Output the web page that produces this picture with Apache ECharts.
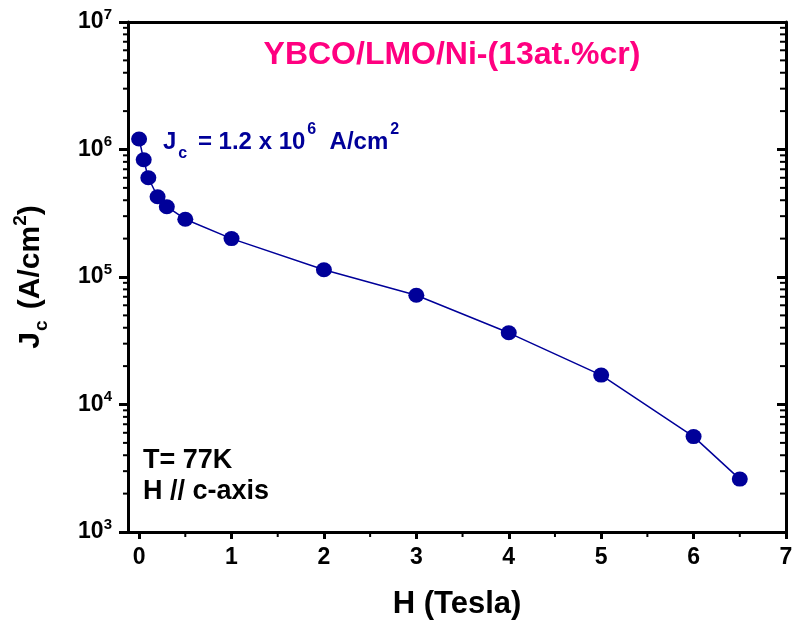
<!DOCTYPE html>
<html>
<head>
<meta charset="utf-8">
<script src="https://cdn.jsdelivr.net/npm/echarts@6/dist/echarts.min.js"></script>
<style>
html,body{margin:0;padding:0;background:#fff;}
#chart{width:792px;height:621px;}
</style>
</head>
<body>
<div id="chart"></div>
<script>
// ---- data ----
const fieldH = [0, 0.05, 0.1, 0.2, 0.3, 0.5, 1, 2, 3, 4, 5, 6, 6.5];
const jcValues = [1.21e6, 8.3e5, 6.0e5, 4.26e5, 3.56e5, 2.84e5, 2.0e5, 1.14e5, 7.2e4, 3.65e4, 1.7e4, 5.6e3, 2.6e3];
const xTickValues = [0, 1, 2, 3, 4, 5, 6, 7];
const xMinorTickValues = [0.5, 1.5, 2.5, 3.5, 4.5, 5.5, 6.5];
const yMinorTickValues = [
  2e3, 3e3, 4e3, 5e3, 6e3, 7e3, 8e3, 9e3,
  2e4, 3e4, 4e4, 5e4, 6e4, 7e4, 8e4, 9e4,
  2e5, 3e5, 4e5, 5e5, 6e5, 7e5, 8e5, 9e5,
  2e6, 3e6, 4e6, 5e6, 6e6, 7e6, 8e6, 9e6
];
const titleText = 'YBCO/LMO/Ni-(13at.%cr)';
const conditionLines = ['T= 77K', 'H // c-axis'];

const FONT = 'Liberation Sans, Arial, sans-serif';
const X_MIN = -0.12, X_MAX = 7, Y_MIN = 1e3, Y_MAX = 1e7;
const NAVY = '#000099';

const chart = echarts.init(document.getElementById('chart'), null, {renderer: 'canvas'});

const minorY = function (params, api) {
  const cs = params.coordSys;
  const y = api.coord([0, api.value(1)])[1];
  return {
    type: 'group',
    children: [
      {type: 'line', shape: {x1: cs.x - 5, y1: y, x2: cs.x, y2: y}, style: {stroke: '#000', lineWidth: 2}},
      {type: 'line', shape: {x1: cs.x + cs.width - 6, y1: y, x2: cs.x + cs.width, y2: y}, style: {stroke: '#000', lineWidth: 2}}
    ]
  };
};
const minorX = function (params, api) {
  const cs = params.coordSys;
  const x = api.coord([api.value(0), 1e4])[0];
  const yb = cs.y + cs.height;
  return {type: 'line', shape: {x1: x, y1: yb, x2: x, y2: yb + 5}, style: {stroke: '#000', lineWidth: 2}};
};

const option = {
  animation: false,
  backgroundColor: '#fff',
  grid: {left: 128, right: 6, top: 22, bottom: 89, containLabel: false, outerBoundsMode: 'none'},
  xAxis: [
    {
      type: 'value', min: X_MIN, max: X_MAX, position: 'bottom',
      axisLine: {show: true, onZero: false, lineStyle: {color: '#000', width: 3}},
      axisTick: {show: true, customValues: xTickValues, length: 7, lineStyle: {color: '#000', width: 3}},
      axisLabel: {customValues: xTickValues, margin: 14, color: '#000', fontFamily: FONT, fontWeight: 'bold', fontSize: 23},
      splitLine: {show: false},
      name: 'H (Tesla)', nameLocation: 'middle', nameGap: 57,
      nameTextStyle: {color: '#000', fontFamily: FONT, fontWeight: 'bold', fontSize: 31}
    },
    {
      type: 'value', min: X_MIN, max: X_MAX, position: 'top',
      axisLine: {show: true, onZero: false, lineStyle: {color: '#000', width: 3}},
      axisTick: {show: false}, axisLabel: {show: false}, splitLine: {show: false}
    }
  ],
  yAxis: [
    {
      type: 'log', logBase: 10, min: Y_MIN, max: Y_MAX, position: 'left',
      axisLine: {show: true, onZero: false, lineStyle: {color: '#000', width: 3}},
      axisTick: {show: true, length: 9, lineStyle: {color: '#000', width: 3}},
      axisLabel: {
        margin: 16, color: '#000',
        formatter: function (v) { return '{b|10}{s|' + Math.round(Math.log10(v)) + '}'; },
        rich: {
          b: {fontFamily: FONT, fontWeight: 'bold', fontSize: 23, lineHeight: 30, color: '#000'},
          s: {fontFamily: FONT, fontWeight: 'bold', fontSize: 15, lineHeight: 15, verticalAlign: 'top', color: '#000'}
        }
      },
      splitLine: {show: false}, minorTick: {show: false},
      name: '{j|J}{c|c}{j| (A/cm}{s|2}{j|)}', nameLocation: 'middle', nameGap: 77, nameRotate: 90,
      nameTextStyle: {
        rich: {
          j: {fontFamily: FONT, fontWeight: 'bold', fontSize: 30, lineHeight: 40, color: '#000'},
          c: {fontFamily: FONT, fontWeight: 'bold', fontSize: 19, lineHeight: 19, verticalAlign: 'bottom', padding: [0, 3, 0, 1], color: '#000'},
          s: {fontFamily: FONT, fontWeight: 'bold', fontSize: 19, lineHeight: 19, verticalAlign: 'top', color: '#000'}
        }
      }
    },
    {
      type: 'log', logBase: 10, min: Y_MIN, max: Y_MAX, position: 'right',
      axisLine: {show: true, onZero: false, lineStyle: {color: '#000', width: 3}},
      axisTick: {show: true, inside: true, length: 9, lineStyle: {color: '#000', width: 3}},
      axisLabel: {show: false}, splitLine: {show: false}
    }
  ],
  series: [
    {
      type: 'custom', xAxisIndex: 0, yAxisIndex: 0, clip: false, silent: true, z: 1,
      renderItem: minorY,
      data: yMinorTickValues.map(function (v) { return [0, v]; })
    },
    {
      type: 'custom', xAxisIndex: 0, yAxisIndex: 0, clip: false, silent: true, z: 1,
      renderItem: minorX,
      data: xMinorTickValues.map(function (v) { return [v, 1e4]; })
    },
    {
      type: 'line', xAxisIndex: 0, yAxisIndex: 0, z: 5,
      data: fieldH.map(function (h, i) { return [h, jcValues[i]]; }),
      symbol: 'circle', symbolSize: [16, 15],
      itemStyle: {color: NAVY},
      lineStyle: {color: NAVY, width: 1.5}
    }
  ],
  graphic: [
    {
      type: 'text', silent: true,
      style: {
        text: titleText, x: 452, y: 55, align: 'center', verticalAlign: 'middle',
        fill: '#FF0080', font: 'bold 32px ' + FONT
      }
    },
    {
      type: 'text', silent: true,
      style: {
        x: 163, y: 142, verticalAlign: 'middle', align: 'left',
        text: '{m|J}{c|c}{m| = 1.2 x 10}{s|6}{m|  A/cm}{s|2}',
        rich: {
          m: {fontFamily: FONT, fontWeight: 'bold', fontSize: 24, lineHeight: 40, fill: NAVY, color: NAVY},
          c: {fontFamily: FONT, fontWeight: 'bold', fontSize: 16, lineHeight: 16, verticalAlign: 'bottom', padding: [0, 4, 0, 2], fill: NAVY, color: NAVY},
          s: {fontFamily: FONT, fontWeight: 'bold', fontSize: 16, lineHeight: 16, verticalAlign: 'top', padding: [0, 0, 0, 2], fill: NAVY, color: NAVY}
        }
      }
    },
    {
      type: 'text', silent: true,
      style: {x: 143, y: 461, verticalAlign: 'middle', text: conditionLines[0], fill: '#000', font: 'bold 27px ' + FONT}
    },
    {
      type: 'text', silent: true,
      style: {x: 143, y: 492, verticalAlign: 'middle', text: conditionLines[1], fill: '#000', font: 'bold 27px ' + FONT}
    }
  ]
};
chart.setOption(option);
</script>
</body>
</html>
